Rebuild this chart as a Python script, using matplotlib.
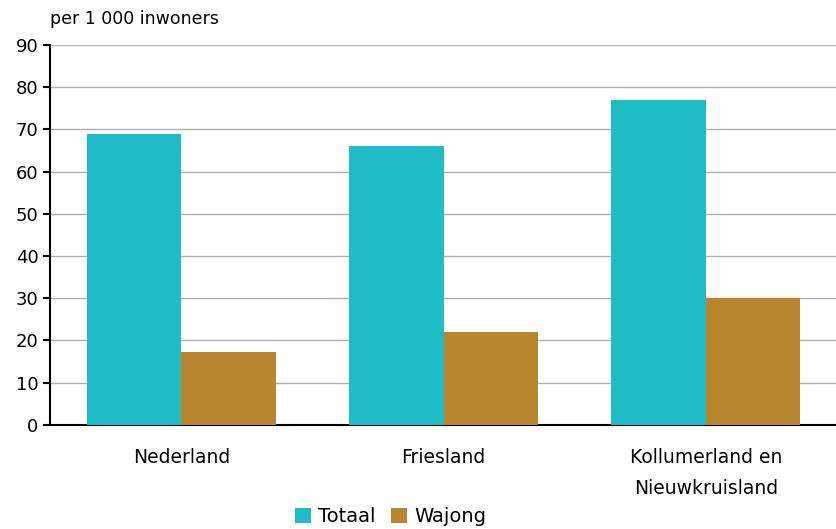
import numpy as np
import matplotlib.pyplot as plt

categories = ['Nederland', 'Friesland', 'Kollumerland en\nNieuwkruisland']
totaal = [69, 66, 77]
wajong = [17.2, 22, 30]
series_names = ['Totaal', 'Wajong']

teal = '#1FBCC6'
brown = '#B8862E'

fig = plt.figure(figsize=(8.37, 5.29), dpi=100)
ax = fig.add_axes([0.06, 0.197, 0.94, 0.718])

x = np.arange(len(categories))
w = 0.36
ax.bar(x - w / 2, totaal, w, color=teal, label=series_names[0], zorder=3)
ax.bar(x + w / 2, wajong, w, color=brown, label=series_names[1], zorder=3)

ax.set_xlim(-0.5, 2.5)
ax.set_ylim(0, 90)
ax.set_yticks(range(0, 91, 10))
ax.yaxis.grid(True, color='#b0b0b0', linewidth=1, zorder=0)
ax.set_axisbelow(True)

ax.spines['top'].set_visible(False)
ax.spines['right'].set_visible(False)
ax.spines['left'].set_color('black')
ax.spines['bottom'].set_color('black')
ax.spines['left'].set_linewidth(1.5)
ax.spines['bottom'].set_linewidth(1.5)

ax.set_xticks(x)
ax.set_xticklabels(categories, fontsize=13.5, linespacing=1.75)
ax.tick_params(axis='x', length=0, pad=17)
ax.tick_params(axis='y', labelsize=13, length=5, width=1.5, direction='out')

fig.text(0.06, 0.965, 'per 1 000 inwoners', fontsize=12.5, ha='left', va='center')

ax.legend(loc='center', bbox_to_anchor=(0.433, -0.242), ncol=2, frameon=False,
          fontsize=14, handlelength=0.8, handleheight=0.8, handletextpad=0.4,
          columnspacing=0.8, borderpad=0.1)

fig.savefig('out.png', dpi=100)
